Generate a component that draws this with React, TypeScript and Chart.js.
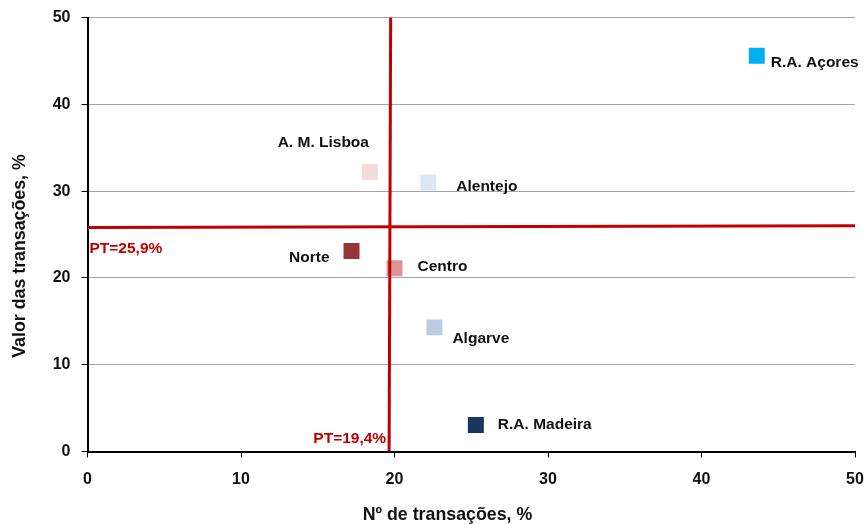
import { useEffect, useRef } from "react";
import { Chart, registerables } from "chart.js";

Chart.register(...registerables);

// ---- Data ----
const regions = ["R.A. Açores", "A. M. Lisboa", "Alentejo", "Norte", "Centro", "Algarve", "R.A. Madeira"];
const transactionsCount = [43.6, 18.4, 22.2, 17.2, 20.0, 22.6, 25.3]; // Nº de transações, %
const transactionsValue = [45.6, 32.2, 31.0, 23.1, 21.1, 14.3, 3.05]; // Valor das transações, %
const regionColors = ["#00B0F0", "#F2DCDB", "#DCE6F2", "#953735", "#D99694", "#B9CDE5", "#17375E"];

// Reference (PT) lines
const ptCountLabel = "PT=19,4%";
const ptValueLabel = "PT=25,9%";
const vLineX = [19.65, 19.75];
const vLineY = [0, 50];
const hLineX = [0, 50];
const hLineY = [25.8, 26.0];

// Axis ticks and titles
const axisMin = 0;
const axisMax = 50;
const axisStep = 10;
const xTitle = "Nº de transações, %";
const yTitle = "Valor das transações, %";

// Label placement (pixels relative to the point): [dx, dy, align]
const labelOffsets: [number, number, CanvasTextAlign][] = [
  [14, 7, "left"],
  [-1, -29, "right"],
  [28, 4, "left"],
  [-22, 7, "right"],
  [23, -2, "left"],
  [18, 11, "left"],
  [22, 0, "left"],
];

const FAMILY = "'Liberation Sans', Arial, sans-serif";
const LABEL_FONT = `bold 15.5px ${FAMILY}`;
const TITLE_FONT = `bold 17.8px ${FAMILY}`;
const RED = "#C00000";

const labelPlugin = {
  id: "pointLabels",
  afterDatasetsDraw(chart: any) {
    const ctx = chart.ctx as CanvasRenderingContext2D;
    const meta = chart.getDatasetMeta(2);
    ctx.save();
    ctx.font = LABEL_FONT;
    ctx.textBaseline = "middle";
    ctx.fillStyle = "#111";
    meta.data.forEach((pt: any, i: number) => {
      const [dx, dy, align] = labelOffsets[i];
      ctx.textAlign = align;
      ctx.fillText(regions[i], pt.x + dx, pt.y + dy);
    });
    const xs = chart.scales.x;
    const ys = chart.scales.y;
    ctx.fillStyle = RED;
    ctx.textAlign = "left";
    ctx.fillText(ptValueLabel, xs.getPixelForValue(hLineX[0]) + 2, ys.getPixelForValue(hLineY[0]) + 21);
    ctx.textAlign = "right";
    ctx.fillText(ptCountLabel, xs.getPixelForValue(vLineX[0]) - 3, ys.getPixelForValue(vLineY[0]) - 12.5);

    // Axis titles
    ctx.fillStyle = "#111";
    ctx.font = TITLE_FONT;
    ctx.textAlign = "center";
    ctx.fillText(xTitle, 447.5, 515);
    ctx.translate(20.5, 256);
    ctx.rotate(-Math.PI / 2);
    ctx.fillText(yTitle, 0, 0);
    ctx.restore();
  },
};

export default function App() {
  const ref = useRef<HTMLCanvasElement | null>(null);

  useEffect(() => {
    if (!ref.current) return;
    const chart = new Chart(ref.current, {
      type: "scatter",
      data: {
        datasets: [
          {
            label: "PT vertical",
            data: vLineX.map((x, i) => ({ x, y: vLineY[i] })),
            showLine: true,
            borderColor: RED,
            borderWidth: 3,
            pointRadius: 0,
            order: 0,
          } as any,
          {
            label: "PT horizontal",
            data: hLineX.map((x, i) => ({ x, y: hLineY[i] })),
            showLine: true,
            borderColor: RED,
            borderWidth: 3,
            pointRadius: 0,
            order: 0,
          } as any,
          {
            label: "Regiões",
            data: transactionsCount.map((x, i) => ({ x, y: transactionsValue[i] })),
            pointStyle: "rect",
            pointRadius: 11.3,
            pointBackgroundColor: regionColors,
            pointBorderWidth: 0,
            pointBorderColor: regionColors,
            order: 1,
          } as any,
        ],
      },
      options: {
        animation: false,
        responsive: false,
        events: [],
        layout: { padding: { top: 17.5, right: 12, bottom: 0, left: 0 } },
        plugins: {
          legend: { display: false },
          tooltip: { enabled: false },
        },
        scales: {
          x: {
            type: "linear",
            min: axisMin,
            max: axisMax,
            ticks: {
              stepSize: axisStep,
              color: "#111",
              font: { family: FAMILY, size: 16, weight: "bold" },
              padding: 12,
            },
            grid: {
              drawOnChartArea: false,
              drawTicks: true,
              tickLength: 6,
              tickColor: "#000",
            },
            border: { color: "#000", width: 2 },
            afterFit: (s: any) => {
              s.height = 72.5;
              s.paddingLeft = 0;
              s.paddingRight = 0;
              s.paddingTop = 0;
              s.paddingBottom = 0;
            },
          },
          y: {
            type: "linear",
            min: axisMin,
            max: axisMax,
            ticks: {
              stepSize: axisStep,
              color: "#111",
              font: { family: FAMILY, size: 16, weight: "bold" },
              padding: 11,
            },
            grid: {
              color: "#A6A6A6",
              lineWidth: 1,
              drawTicks: true,
              tickLength: 6,
              tickColor: "#000",
            },
            border: { color: "#000", width: 2 },
            afterFit: (s: any) => {
              s.width = 87.5;
              s.paddingLeft = 0;
              s.paddingRight = 0;
              s.paddingTop = 0;
              s.paddingBottom = 0;
            },
          },
        },
      },
      plugins: [labelPlugin],
    });
    return () => chart.destroy();
  }, []);

  return (
    <div style={{ position: "absolute", left: 0, top: 0, width: 867, height: 524, background: "#fff" }}>
      <canvas ref={ref} width={867} height={524} style={{ display: "block" }} />
    </div>
  );
}
